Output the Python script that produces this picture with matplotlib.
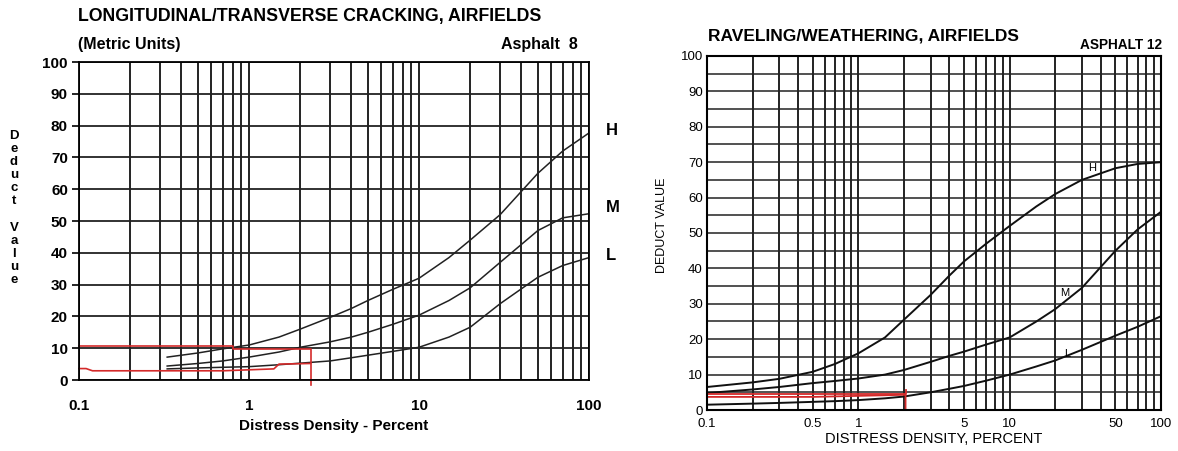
import matplotlib
matplotlib.use("Agg")
import matplotlib.pyplot as plt
from matplotlib.ticker import LogLocator, FixedLocator, NullFormatter

# left chart: longitudinal / transverse cracking (asphalt 8)
lt_x = [0.33, 0.5, 0.7, 1, 1.5, 2, 3, 4, 5, 7, 10, 15, 20, 30, 50, 70, 100]
lt_H = [7.2, 8.5, 9.8, 11, 13.5, 16, 19.7, 22.5, 25, 28.5, 32, 38.5, 44, 52, 65, 72, 77.7]
lt_M = [4.4, 5.2, 6.0, 7.2, 8.8, 10.3, 12, 13.5, 15, 17.5, 20.4, 25, 29, 37, 47, 51, 52.3]
lt_L = [3.5, 3.8, 4.0, 4.2, 4.8, 5.3, 6, 7, 7.8, 9, 10.3, 13.5, 16.6, 24, 32.3, 36, 38.5]
lt_red1_x = [0.1, 0.8, 0.8, 2.3, 2.3]
lt_red1_y = [10.6, 10.6, 9.9, 9.9, -1.5]
lt_red2_x = [0.1, 0.11, 0.12, 0.7, 1.4, 1.5, 2.3]
lt_red2_y = [3.6, 3.6, 2.9, 2.9, 3.5, 5.0, 5.2]

# right chart: raveling / weathering (asphalt 12)
rt_x = [0.1, 0.2, 0.3, 0.5, 0.7, 1, 1.5, 2, 3, 4, 5, 7, 10, 15, 20, 30, 50, 70, 100]
rt_H = [6.5, 7.8, 8.8, 10.8, 13, 16, 20.5, 25.5, 32.5, 38, 42, 47, 52, 57.5, 61, 65, 68.3, 69.5, 70]
rt_M = [4.8, 5.8, 6.5, 7.6, 8.2, 8.9, 10, 11.3, 13.6, 15.3, 16.5, 18.5, 20.5, 25, 28.5, 34.5, 45, 51, 56]
rt_L = [1.5, 1.8, 2.0, 2.3, 2.5, 2.8, 3.3, 3.8, 5.0, 6.0, 6.8, 8.3, 10, 12.3, 14, 17, 21, 23.5, 26.5]
rt_red1_x = [0.1, 2.05, 2.05]
rt_red1_y = [4.6, 4.6, 5.6]
rt_red2_x = [0.1, 0.5, 2.05, 2.05]
rt_red2_y = [3.7, 3.7, 4.3, 0.5]

lt_ticks = [0.1, 1, 10, 100]
lt_ticklabels = ["0.1", "1", "10", "100"]
rt_ticks = [0.1, 0.5, 1, 5, 10, 50, 100]
rt_ticklabels = ["0.1", "0.5", "1", "5", "10", "50", "100"]
yticks = list(range(0, 101, 10))

fig = plt.figure(figsize=(11.78, 4.51), dpi=100)
red = "#d42a2a"
font = "Liberation Sans"

# ---- left ----
ax1 = fig.add_axes([0.0671, 0.1574, 0.4329, 0.705])
ax1.set_xscale("log")
ax1.set_xlim(0.1, 100)
ax1.set_ylim(0, 100)
ax1.xaxis.set_major_locator(FixedLocator(lt_ticks))
ax1.xaxis.set_minor_locator(LogLocator(base=10, subs=range(2, 10)))
ax1.xaxis.set_minor_formatter(NullFormatter())
ax1.set_xticklabels(lt_ticklabels)
ax1.set_yticks(yticks)
ax1.grid(True, which="both", axis="x", color="#111111", lw=1.3)
ax1.grid(True, which="major", axis="y", color="#222222", lw=1.3)
for s in ax1.spines.values():
    s.set_linewidth(1.3)
ax1.tick_params(axis="x", which="both", length=0, pad=14)
ax1.tick_params(axis="y", length=5, width=1.2, pad=3)
for t in ax1.get_xticklabels() + ax1.get_yticklabels():
    t.set_fontfamily(font)
    t.set_fontweight("bold")
    t.set_fontsize(11)
ax1.plot(lt_x, lt_H, color="#222222", lw=1.1)
ax1.plot(lt_x, lt_M, color="#222222", lw=1.1)
ax1.plot(lt_x, lt_L, color="#222222", lw=1.1)
ax1.plot(lt_red1_x, lt_red1_y, color=red, lw=1.2, clip_on=False)
ax1.plot(lt_red2_x, lt_red2_y, color=red, lw=1.2, clip_on=False)
ax1.text(125, 78.6, "H", fontfamily=font, fontweight="bold", fontsize=12, va="center", ha="left")
ax1.text(125, 54.4, "M", fontfamily=font, fontweight="bold", fontsize=12, va="center", ha="left")
ax1.text(125, 39.3, "L", fontfamily=font, fontweight="bold", fontsize=12, va="center", ha="left")
ax1.set_xlabel("Distress Density - Percent", fontfamily=font, fontweight="bold", fontsize=11, labelpad=4)
fig.text(14 / 1178, 1 - 208 / 451, "\n".join("Deduct Value"), fontfamily=font, fontweight="bold",
         fontsize=9.5, ha="center", va="center", linespacing=1.12)
fig.text(78 / 1178, 1 - 17 / 451, "LONGITUDINAL/TRANSVERSE CRACKING, AIRFIELDS", fontfamily=font,
         fontweight="bold", fontsize=12.8, ha="left", va="center")
fig.text(78 / 1178, 1 - 45 / 451, "(Metric Units)", fontfamily=font, fontweight="bold",
         fontsize=11.5, ha="left", va="center")
fig.text(578 / 1178, 1 - 45 / 451, "Asphalt  8", fontfamily=font, fontweight="bold",
         fontsize=11.5, ha="right", va="center")

# ---- right ----
ax2 = fig.add_axes([0.6002, 0.0909, 0.3854, 0.785])
ax2.set_xscale("log")
ax2.set_xlim(0.1, 100)
ax2.set_ylim(0, 100)
ax2.xaxis.set_major_locator(FixedLocator(rt_ticks))
ax2.xaxis.set_minor_locator(LogLocator(base=10, subs=range(1, 10)))
ax2.xaxis.set_minor_formatter(NullFormatter())
ax2.set_xticklabels(rt_ticklabels)
ax2.set_yticks(yticks)
ax2.set_yticks(list(range(5, 100, 10)), minor=True)
ax2.grid(True, which="both", axis="x", color="#111111", lw=1.3)
ax2.grid(True, which="both", axis="y", color="#222222", lw=1.1)
for s in ax2.spines.values():
    s.set_linewidth(1.5)
ax2.tick_params(axis="x", which="both", length=0, pad=6)
ax2.tick_params(axis="y", which="both", length=0, pad=3)
for t in ax2.get_xticklabels() + ax2.get_yticklabels():
    t.set_fontfamily(font)
    t.set_fontsize(9.5)
ax2.plot(rt_x, rt_H, color="#111111", lw=1.4)
ax2.plot(rt_x, rt_M, color="#111111", lw=1.4)
ax2.plot(rt_x, rt_L, color="#111111", lw=1.4)
ax2.plot(rt_red1_x, rt_red1_y, color=red, lw=1.3)
ax2.plot(rt_red2_x, rt_red2_y, color=red, lw=1.3)
ax2.text(35, 67, "H", fontfamily=font, fontsize=8, ha="center", va="bottom")
ax2.text(23, 31.5, "M", fontfamily=font, fontsize=8, ha="center", va="bottom")
ax2.text(24, 14.5, "L", fontfamily=font, fontsize=8, ha="center", va="bottom")
ax2.set_xlabel("DISTRESS DENSITY, PERCENT", fontfamily=font, fontsize=10.5, labelpad=1)
fig.text(662 / 1178, 1 - 225 / 451, "DEDUCT VALUE", fontfamily=font, fontsize=9, rotation=90,
         ha="center", va="center")
fig.text(708 / 1178, 1 - 36 / 451, "RAVELING/WEATHERING, AIRFIELDS", fontfamily=font,
         fontweight="bold", fontsize=12.5, ha="left", va="center")
fig.text(1162 / 1178, 1 - 45 / 451, "ASPHALT 12", fontfamily=font, fontweight="bold",
         fontsize=9.8, ha="right", va="center")

fig.savefig("out.png", dpi=100)
